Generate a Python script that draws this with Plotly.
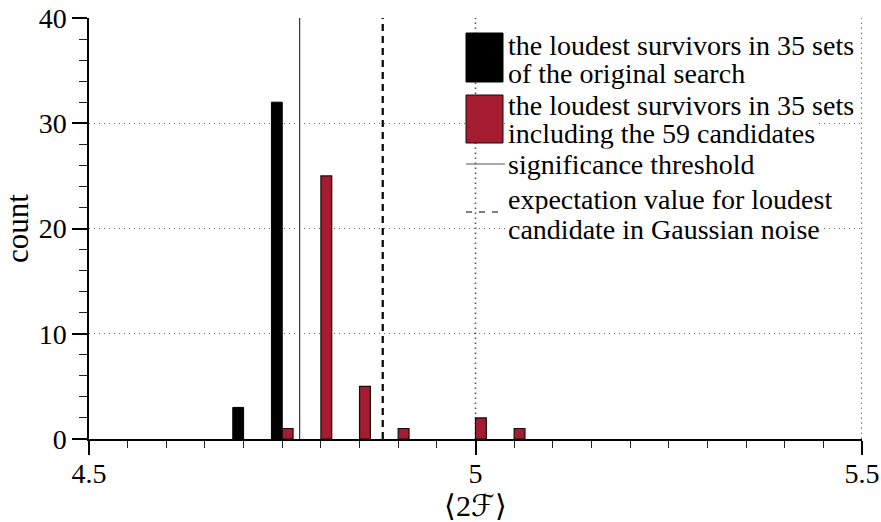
import plotly.graph_objects as go

# Histogram bins (left edges, width 0.05) of <2F>
bins_original = [4.70, 4.75]
counts_original = [3, 32]
bins_with_cands = [4.75, 4.80, 4.85, 4.90, 5.00, 5.05]
counts_with_cands = [1, 25, 5, 1, 2, 1]

significance_threshold = 4.7725
expected_loudest = 4.880

x_ticks = [4.5, 5.0, 5.5]
x_ticktext = ["4.5", "5", "5.5"]
y_ticks = [0, 10, 20, 30, 40]

legend_labels = [
    ["the loudest survivors in 35 sets", "of the original search"],
    ["the loudest survivors in 35 sets", "including the 59 candidates"],
    ["significance threshold"],
    ["expectation value for loudest", "candidate in Gaussian noise"],
]

CRIMSON = "#A51C30"
FONT = "Liberation Serif"
BAR_W = 0.014
GRID_COLOR = "#6f6f6f"
GRID_DASH = "1px,4px"

# plot-area geometry in pixels
W, H = 881, 522
L, R, T, B = 89, 19, 18, 83
PW, PH = W - L - R, H - T - B


def px(x):
    return (x - L) / PW


def py(y):
    return (H - B - y) / PH


fig = go.Figure()

# dotted vertical grid at the labelled x ticks (right of the y axis)
for xv in x_ticks[1:]:
    fig.add_shape(type="line", xref="x", yref="paper", x0=xv, x1=xv, y0=0, y1=1,
                  layer="below", line=dict(color="#555555", width=1.6, dash="1.5px,3.5px"))

fig.add_trace(go.Bar(
    x=bins_original, y=counts_original, width=BAR_W, offset=-BAR_W,
    marker=dict(color="black", line=dict(color="black", width=1)),
    showlegend=False,
))
fig.add_trace(go.Bar(
    x=bins_with_cands, y=counts_with_cands, width=BAR_W, offset=0,
    marker=dict(color=CRIMSON, line=dict(color="#1a0a0a", width=1.2)),
    showlegend=False,
))

fig.add_vline(x=significance_threshold, line=dict(color="#333333", width=1.2))
fig.add_vline(x=expected_loudest, line=dict(color="black", width=2.2, dash="7px,5px"))

# hand-built legend
shapes = [
    dict(type="rect", xref="paper", yref="paper", x0=px(466), x1=px(503),
         y0=py(82), y1=py(33), fillcolor="black", line=dict(color="black", width=1)),
    dict(type="rect", xref="paper", yref="paper", x0=px(466), x1=px(503),
         y0=py(143), y1=py(95), fillcolor=CRIMSON, line=dict(color="#1a0a0a", width=1)),
    dict(type="line", xref="paper", yref="paper", x0=px(466), x1=px(505),
         y0=py(164), y1=py(164), line=dict(color="#555555", width=1.2)),
    dict(type="line", xref="paper", yref="paper", x0=px(466), x1=px(505),
         y0=py(212), y1=py(212), line=dict(color="black", width=1.2, dash="6px,7px")),
]
for s in shapes:
    fig.add_shape(**s)

line_y = [[45, 73], [105, 133], [164], [199, 229]]
for labels, ys in zip(legend_labels, line_y):
    for text, yy in zip(labels, ys):
        fig.add_annotation(
            xref="paper", yref="paper", x=px(507), y=py(yy),
            xanchor="left", yanchor="middle", text=text, showarrow=False,
            bgcolor="white", borderpad=0,
            font=dict(family=FONT, size=28, color="black"),
        )

fig.update_layout(
    width=W, height=H,
    margin=dict(l=L, r=R, t=T, b=B, autoexpand=False),
    plot_bgcolor="white", paper_bgcolor="white",
    barmode="overlay",
    font=dict(family=FONT, size=28, color="black"),
)

fig.update_xaxes(
    range=[4.5, 5.5], tickvals=x_ticks, ticktext=x_ticktext,
    ticks="outside", ticklen=14, tickwidth=1.5, tickcolor="black",
    ticklabelstandoff=-5,
    minor=dict(dtick=0.05, tick0=4.5, ticks="outside", ticklen=7, tickwidth=1.2,
               tickcolor="#222222", showgrid=False),
    showline=True, linecolor="black", linewidth=1.5,
    showgrid=False, zeroline=False, automargin=False,
    title=dict(text="⟨2ℱ⟩", font=dict(family=FONT, size=30), standoff=0),
    tickfont=dict(family=FONT, size=28),
)
fig.update_yaxes(
    range=[0, 40], tickvals=y_ticks,
    ticks="outside", ticklen=15, tickwidth=1.5, tickcolor="black",
    minor=dict(dtick=2, ticks="outside", ticklen=8, tickwidth=1.2,
               tickcolor="#222222", showgrid=False),
    showline=True, linecolor="black", linewidth=1.5,
    showgrid=True, gridcolor=GRID_COLOR, griddash=GRID_DASH, gridwidth=1,
    zeroline=False, automargin=False,
    title=dict(text="count", font=dict(family=FONT, size=31), standoff=6),
    tickfont=dict(family=FONT, size=28),
)

fig.write_html("out.html")
